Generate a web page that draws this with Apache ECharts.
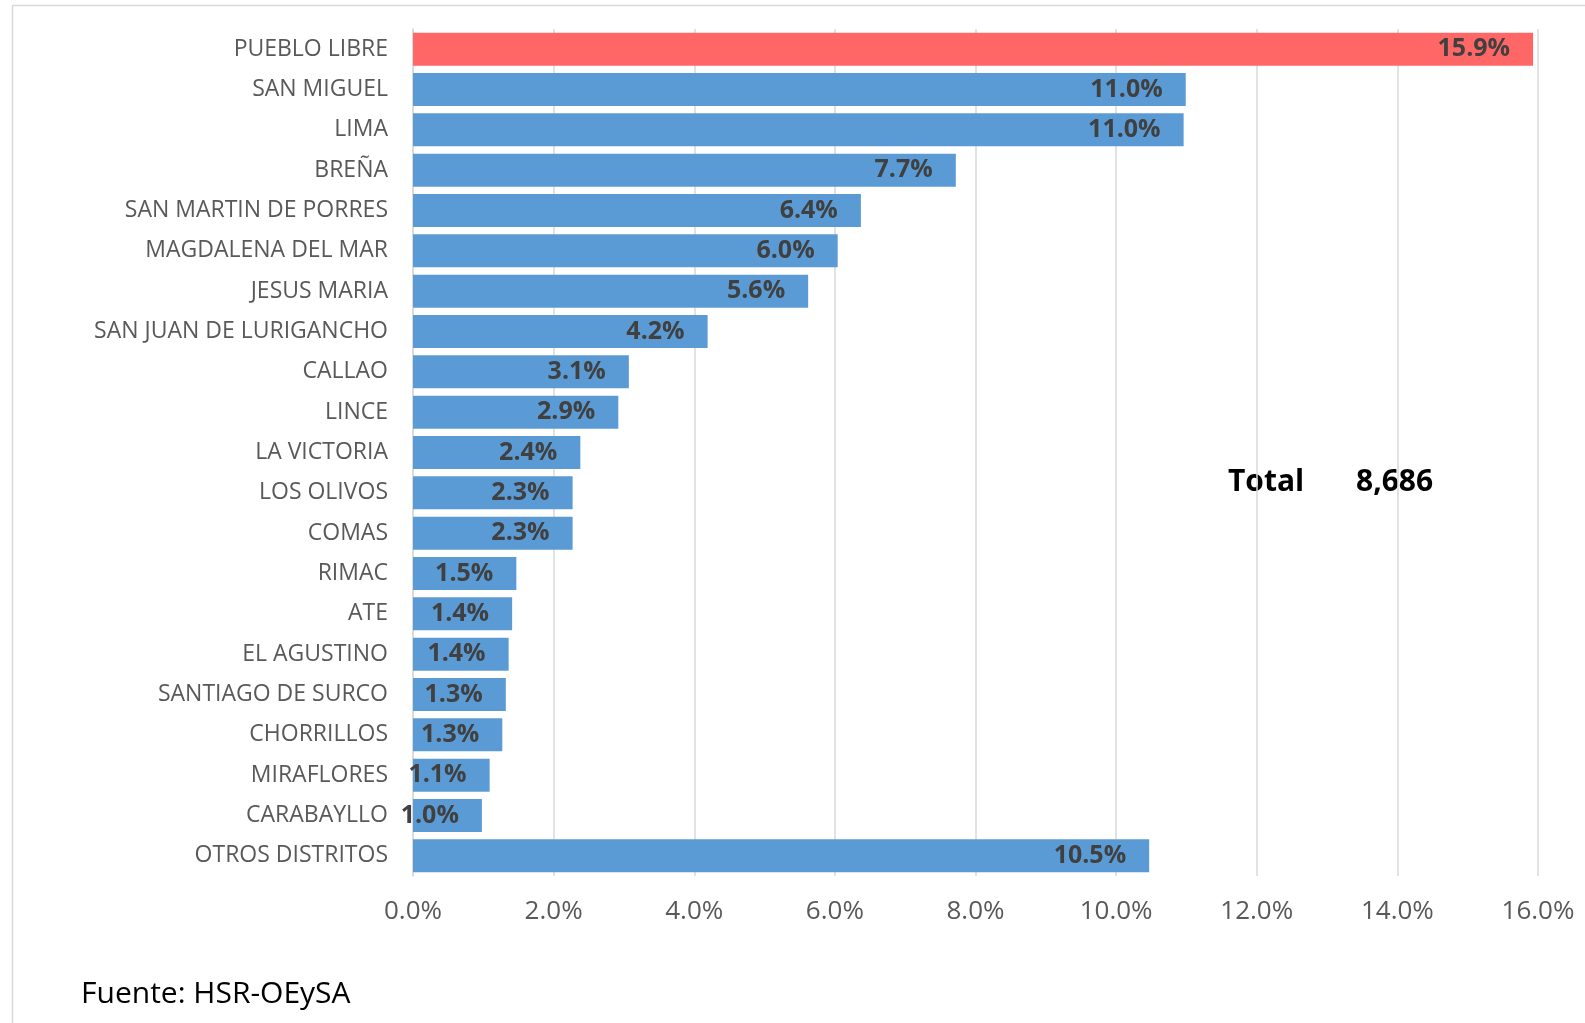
<!DOCTYPE html>
<html>
<head>
<meta charset="utf-8">
<script src="https://cdn.jsdelivr.net/npm/echarts@6/dist/echarts.min.js"></script>
<style>
html,body{margin:0;padding:0;background:#fff;}
#c{width:1585px;height:1023px;}
</style>
</head>
<body>
<div id="c"></div>
<script>
var categories = ["PUEBLO LIBRE","SAN MIGUEL","LIMA","BREÑA","SAN MARTIN DE PORRES","MAGDALENA DEL MAR","JESUS MARIA","SAN JUAN DE LURIGANCHO","CALLAO","LINCE","LA VICTORIA","LOS OLIVOS","COMAS","RIMAC","ATE","EL AGUSTINO","SANTIAGO DE SURCO","CHORRILLOS","MIRAFLORES","CARABAYLLO","OTROS DISTRITOS"];
var values = [15.93,10.99,10.96,7.72,6.37,6.04,5.62,4.19,3.07,2.92,2.38,2.27,2.27,1.47,1.41,1.36,1.32,1.27,1.09,0.98,10.47];
var xTicks = [0,2,4,6,8,10,12,14,16];
var totalLabel = "Total";
var totalValue = "8,686";
var sourceText = "Fuente: HSR-OEySA";

var chart = echarts.init(document.getElementById('c'));
var data = values.map(function(v,i){
  return {value:v, itemStyle:{color: i===0 ? '#FF6666' : '#5B9BD5'}};
});
chart.setOption({
  animation:false,
  grid:{left:413,right:47,top:29,bottom:147,containLabel:false},
  xAxis:{
    type:'value',min:xTicks[0],max:xTicks[xTicks.length-1],interval:xTicks[1]-xTicks[0],
    axisLine:{show:false},axisTick:{show:false},
    splitLine:{show:true,lineStyle:{color:'#d9d9d9',width:1.5}},
    axisLabel:{formatter:function(v){return v.toFixed(1)+'%';},color:'#595959',fontFamily:'Open Sans',fontSize:26,margin:23}
  },
  yAxis:{
    type:'category',data:categories,inverse:true,
    axisLine:{show:true,lineStyle:{color:'#d9d9d9',width:1.5}},
    axisTick:{show:false},
    axisLabel:{color:'#595959',fontFamily:'Open Sans',fontSize:23,margin:25}
  },
  series:[{
    type:'bar',data:data,barWidth:33,
    label:{show:true,position:'insideRight',distance:23,color:'#404040',fontWeight:'bold',fontFamily:'Open Sans',fontSize:25,
      formatter:function(p){return p.value.toFixed(1)+'%';}}
  }],
  graphic:[
    {type:'rect',left:10,top:3,shape:{width:1600,height:1100},style:{fill:null,stroke:'#d9d9d9',lineWidth:1.5},silent:true,z:-10},
    {type:'text',x:1228,y:482,style:{text:totalLabel,fontFamily:'Open Sans',fontWeight:'bold',fontSize:30,fill:'#000',verticalAlign:'middle'}},
    {type:'text',x:1356,y:482,style:{text:totalValue,fontFamily:'Open Sans',fontWeight:'bold',fontSize:30,fill:'#000',verticalAlign:'middle'}},
    {type:'text',x:81,y:994,style:{text:sourceText,fontFamily:'Open Sans',fontSize:30,fill:'#000',verticalAlign:'middle'}}
  ]
});
</script>
</body>
</html>
